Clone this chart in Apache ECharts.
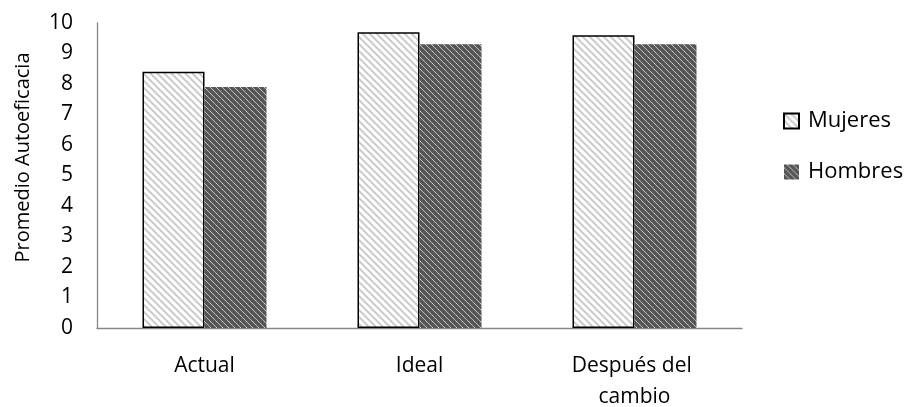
<!DOCTYPE html>
<html>
<head>
<meta charset="utf-8">
<script src="https://cdn.jsdelivr.net/npm/echarts@6/dist/echarts.min.js"></script>
<style>
  html, body { margin: 0; padding: 0; background: #fff; }
  #chart { width: 907px; height: 407px; }
</style>
</head>
<body>
<div id="chart"></div>
<script>
// Average self-efficacy by moment and gender
const categories = ['Actual', 'Ideal', 'Después del cambio'];
const seriesNames = ['Mujeres', 'Hombres'];
const mujeres = [8.4, 9.7, 9.6];
const hombres = [7.9, 9.3, 9.3];
const yTicks = [0, 1, 2, 3, 4, 5, 6, 7, 8, 9, 10];

const FONT = '"Open Sans", "Liberation Sans", sans-serif';

// Diagonal ("\") hatch tile drawn into a small canvas
function hatch(size, lineWidth, color) {
  const c = document.createElement('canvas');
  c.width = size; c.height = size;
  const ctx = c.getContext('2d');
  ctx.fillStyle = '#ffffff';
  ctx.fillRect(0, 0, size, size);
  ctx.strokeStyle = color;
  ctx.lineWidth = lineWidth;
  ctx.lineCap = 'square';
  for (let k = -1; k <= 1; k++) {
    ctx.beginPath();
    ctx.moveTo(k * size - 1, -1);
    ctx.lineTo(k * size + size + 1, size + 1);
    ctx.stroke();
  }
  return c;
}

const lightHatch = { image: hatch(7, 2, '#cccccc'), repeat: 'repeat' };
const darkHatch = { image: hatch(6, 3.8, '#555555'), repeat: 'repeat' };

const chart = echarts.init(document.getElementById('chart'), null, { renderer: 'canvas' });

chart.setOption({
  animation: false,
  backgroundColor: '#ffffff',
  textStyle: { fontFamily: FONT },
  grid: { left: 97, right: 165, top: 23, bottom: 79, containLabel: false, outerBoundsMode: 'none' },
  legend: {
    orient: 'vertical',
    left: 783,
    top: 110,
    padding: 0,
    itemWidth: 15,
    itemHeight: 15,
    itemGap: 29,
    icon: 'rect',
    textStyle: { fontFamily: FONT, fontSize: 22, color: '#000', padding: [0, 0, 0, 4] },
    data: seriesNames
  },
  xAxis: {
    type: 'category',
    data: categories,
    axisLine: { show: true, lineStyle: { color: '#868686', width: 1.3 } },
    axisTick: { show: false },
    axisLabel: {
      interval: 0,
      margin: 23,
      fontSize: 21,
      color: '#000',
      fontFamily: FONT,
      lineHeight: 31,
      width: 150,
      overflow: 'break'
    },
    splitLine: { show: false }
  },
  yAxis: {
    type: 'value',
    min: yTicks[0],
    max: yTicks[yTicks.length - 1],
    interval: 1,
    name: 'Promedio Autoeficacia',
    nameLocation: 'middle',
    nameRotate: 90,
    nameGap: 64,
    nameTextStyle: { fontSize: 20, color: '#000', fontFamily: FONT, padding: [0, 0, 0, 36] },
    axisLine: { show: true, lineStyle: { color: '#868686', width: 1.3 } },
    axisTick: { show: false },
    axisLabel: { margin: 24, fontSize: 21, color: '#000', fontFamily: FONT },
    splitLine: { show: false }
  },
  series: [
    {
      name: seriesNames[0],
      type: 'bar',
      data: mujeres,
      barWidth: 62,
      barGap: '0%',
      itemStyle: { color: lightHatch, borderColor: '#000', borderWidth: 1.5 }
    },
    {
      name: seriesNames[1],
      type: 'bar',
      data: hombres,
      barWidth: 62,
      barGap: '0%',
      itemStyle: { color: darkHatch, borderWidth: 0 }
    }
  ]
});
</script>
</body>
</html>
